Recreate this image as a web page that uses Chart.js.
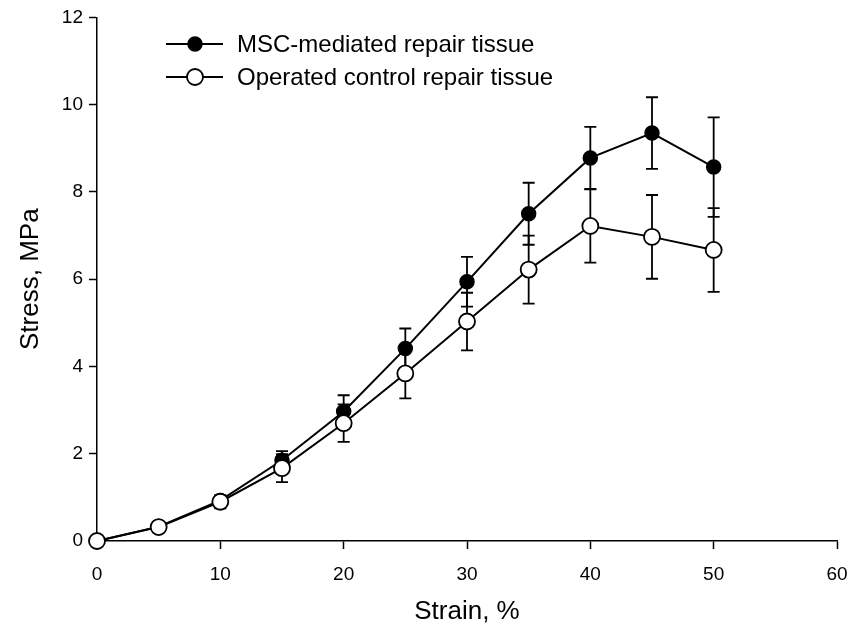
<!DOCTYPE html>
<html lang="en">
<head>
<meta charset="UTF-8">
<title>Stress vs strain</title>
<script src="https://cdn.jsdelivr.net/npm/chart.js"></script>
<style>
  body { margin: 0; background: #fff; }
  canvas { display: block; }
</style>
</head>
<body>
<canvas id="myChart" width="851" height="633"></canvas>
<script>
// values
const strain = [0, 5, 10, 15, 20, 25, 30, 35, 40, 45, 50];
const mscStress = [0, 0.33, 0.93, 1.85, 2.97, 4.41, 5.94, 7.50, 8.78, 9.35, 8.57];
const mscSD = [0, 0, 0.10, 0.21, 0.37, 0.46, 0.57, 0.71, 0.71, 0.82, 1.14];
const ctrlStress = [0, 0.32, 0.90, 1.67, 2.70, 3.84, 5.03, 6.22, 7.22, 6.97, 6.67];
const ctrlSD = [0, 0, 0.15, 0.32, 0.43, 0.57, 0.66, 0.78, 0.84, 0.96, 0.96];
const xTicks = [0, 10, 20, 30, 40, 50, 60];
const yTicks = [0, 2, 4, 6, 8, 10, 12];
const legendLabels = ['MSC-mediated repair tissue', 'Operated control repair tissue'];

const FONT = "'Liberation Sans', Arial, Helvetica, sans-serif";

// error bars, drawn under the markers
const errorBars = {
  id: 'errorBars',
  beforeDatasetsDraw(chart) {
    const ctx = chart.ctx;
    const xs = chart.scales.x, ys = chart.scales.y;
    ctx.save();
    ctx.strokeStyle = '#000';
    ctx.lineWidth = 1.8;
    chart.data.datasets.forEach(ds => {
      ds.data.forEach((p, i) => {
        const sd = ds.sd[i];
        if (!sd) return;
        const px = xs.getPixelForValue(p.x);
        const top = ys.getPixelForValue(p.y + sd);
        const bot = ys.getPixelForValue(p.y - sd);
        ctx.beginPath();
        ctx.moveTo(px, top); ctx.lineTo(px, bot);
        ctx.moveTo(px - 6, top); ctx.lineTo(px + 6, top);
        ctx.moveTo(px - 6, bot); ctx.lineTo(px + 6, bot);
        ctx.stroke();
      });
    });
    ctx.restore();
  }
};

// legend sits inside the plot, top left
const insideLegend = {
  id: 'insideLegend',
  afterDraw(chart) {
    const ctx = chart.ctx;
    const rows = [chart.data.datasets[1], chart.data.datasets[0]];
    ctx.save();
    ctx.font = '24px ' + FONT;
    ctx.textBaseline = 'middle';
    rows.forEach((ds, i) => {
      const y = 44 + i * 33;
      ctx.beginPath();
      ctx.lineWidth = 2;
      ctx.strokeStyle = '#000';
      ctx.moveTo(166, y); ctx.lineTo(223, y);
      ctx.stroke();
      ctx.beginPath();
      ctx.arc(195, y, ds.pointRadius, 0, Math.PI * 2);
      ctx.fillStyle = ds.pointBackgroundColor;
      ctx.fill();
      ctx.lineWidth = ds.pointBorderWidth;
      ctx.stroke();
      ctx.fillStyle = '#000';
      ctx.fillText(legendLabels[i], 237, y + 1);
    });
    ctx.restore();
  }
};

const ctx = document.getElementById('myChart').getContext('2d');
new Chart(ctx, {
  type: 'line',
  data: {
    datasets: [
      {
        label: legendLabels[1],
        data: strain.map((x, i) => ({ x, y: ctrlStress[i] })),
        sd: ctrlSD,
        borderColor: '#000',
        borderWidth: 2,
        pointRadius: 8,
        pointBackgroundColor: '#fff',
        pointBorderColor: '#000',
        pointBorderWidth: 1.8,
        clip: false,
        order: 0
      },
      {
        label: legendLabels[0],
        data: strain.map((x, i) => ({ x, y: mscStress[i] })),
        sd: mscSD,
        borderColor: '#000',
        borderWidth: 2,
        pointRadius: 7,
        pointBackgroundColor: '#000',
        pointBorderColor: '#000',
        pointBorderWidth: 1.5,
        clip: false,
        order: 1
      }
    ]
  },
  options: {
    responsive: false,
    animation: false,
    layout: { padding: { left: 11, top: 16, right: 14, bottom: 2 } },
    plugins: { legend: { display: false }, tooltip: { enabled: false } },
    scales: {
      x: {
        type: 'linear',
        min: 0, max: 60,
        afterBuildTicks: s => { s.ticks = xTicks.map(v => ({ value: v })); },
        afterFit: s => { s.height = 90; s.paddingLeft = 0; s.paddingRight = 0; },
        grid: { drawOnChartArea: false, tickLength: 8, tickWidth: 1.5, color: '#000' },
        border: { color: '#000', width: 1.5 },
        ticks: { color: '#000', font: { family: FONT, size: 19 }, padding: 14, maxRotation: 0 },
        title: { display: true, text: 'Strain, %', color: '#000', font: { family: FONT, size: 26 } }
      },
      y: {
        min: 0, max: 12,
        afterBuildTicks: s => { s.ticks = yTicks.map(v => ({ value: v })); },
        afterFit: s => { s.width = 86; },
        grid: { drawOnChartArea: false, tickLength: 8, tickWidth: 1.5, color: '#000' },
        border: { color: '#000', width: 1.5 },
        ticks: { color: '#000', font: { family: FONT, size: 19 }, padding: 6 },
        title: { display: true, text: 'Stress, MPa', color: '#000', font: { family: FONT, size: 26 } }
      }
    }
  },
  plugins: [errorBars, insideLegend]
});
</script>
</body>
</html>
